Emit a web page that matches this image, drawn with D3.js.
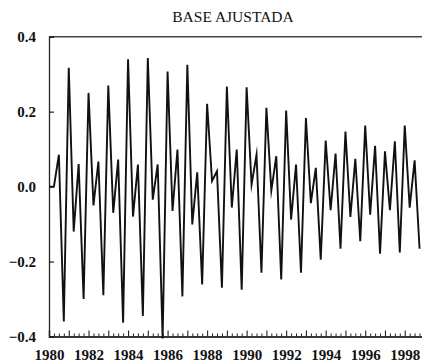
<!DOCTYPE html>
<html>
<head>
<meta charset="utf-8">
<script src="https://cdn.jsdelivr.net/npm/d3@7"></script>
<style>
  html, body { margin: 0; padding: 0; background: #fff; }
  svg { display: block; }
</style>
</head>
<body>
<svg id="chart" width="422" height="364"></svg>
<script>
// Quarterly seasonal component, 1980 Q1 – 1998 Q4 (four values per year)
const years = d3.range(1980, 1999);
const quarterValues = [
  [0.000, 0.000, 0.085, -0.360],  // 1980
  [0.317, -0.120, 0.060, -0.300], // 1981
  [0.250, -0.050, 0.067, -0.290], // 1982
  [0.270, -0.070, 0.072, -0.363], // 1983
  [0.340, -0.080, 0.059, -0.345], // 1984
  [0.343, -0.035, 0.059, -0.405], // 1985
  [0.307, -0.065, 0.099, -0.293], // 1986
  [0.325, -0.101, 0.038, -0.261], // 1987
  [0.221, 0.015, 0.041, -0.270],  // 1988
  [0.267, -0.056, 0.099, -0.275], // 1989
  [0.265, 0.005, 0.085, -0.230],  // 1990
  [0.210, -0.010, 0.081, -0.248], // 1991
  [0.203, -0.088, 0.059, -0.230], // 1992
  [0.183, -0.044, 0.050, -0.195], // 1993
  [0.123, -0.063, 0.088, -0.166], // 1994
  [0.147, -0.081, 0.074, -0.146], // 1995
  [0.163, -0.075, 0.109, -0.179], // 1996
  [0.094, -0.063, 0.121, -0.176], // 1997
  [0.163, -0.056, 0.070, -0.166]  // 1998
];
const yTicks = [-0.4, -0.2, 0.0, 0.2, 0.4];
const yearLabels = d3.range(1980, 1999, 2);
const title = "BASE AJUSTADA";

const serif = "'Liberation Serif', 'Times New Roman', Times, serif";

// Flatten to (time, value) pairs
const series = [];
years.forEach((yr, i) => {
  quarterValues[i].forEach((v, q) => series.push({ t: yr + q / 4, v }));
});

const svg = d3.select("#chart");
const plotLeft = 49, plotRight = 424.5, plotTop = 36.7, plotBottom = 336.5;

const x = d3.scaleLinear().domain([1980, 1999]).range([plotLeft, plotRight]);
const y = d3.scaleLinear().domain([-0.4, 0.4]).range([plotBottom, plotTop]);

// Title
svg.append("text")
  .attr("x", 233).attr("y", 22)
  .attr("text-anchor", "middle")
  .style("font-family", serif)
  .style("font-size", "15.5px")
  .style("fill", "#111")
  .text(title);

// Frame: top border
svg.append("line")
  .attr("x1", plotLeft).attr("x2", plotRight)
  .attr("y1", plotTop).attr("y2", plotTop)
  .attr("stroke", "#444").attr("stroke-width", 1.6);

// Y axis with inward ticks
const yAxis = d3.axisLeft(y).tickValues(yTicks).tickSize(-5).tickPadding(13)
  .tickFormat(d3.format(".1f"));
const gy = svg.append("g").attr("transform", `translate(${plotLeft},0)`).call(yAxis);
gy.select(".domain").attr("stroke", "#222").attr("stroke-width", 1.3);
gy.selectAll(".tick line").attr("stroke", "#222").attr("stroke-width", 1.2);
gy.selectAll(".tick text")
  .style("font-family", serif)
  .style("font-size", "15px").style("font-weight", "bold")
  .style("fill", "#111");

// X axis: quarterly minor ticks, yearly major ticks, labels every two years
const quarterTicks = d3.range(0, 19 * 4 + 1).map(k => 1980 + k / 4);
const xAxisMinor = d3.axisBottom(x).tickValues(quarterTicks.filter(t => t % 1 !== 0))
  .tickSize(-3).tickFormat("");
const gxm = svg.append("g").attr("transform", `translate(0,${plotBottom})`).call(xAxisMinor);
gxm.selectAll(".tick line").attr("stroke", "#222").attr("stroke-width", 1);

const xAxisMajor = d3.axisBottom(x).tickValues(years).tickSize(-6).tickFormat("");
const gx = svg.append("g").attr("transform", `translate(0,${plotBottom})`).call(xAxisMajor);
gx.select(".domain").attr("stroke", "#222").attr("stroke-width", 1.4);
gx.selectAll(".tick line").attr("stroke", "#222").attr("stroke-width", 1.1);

const xLabelAxis = d3.axisBottom(x).tickValues(yearLabels).tickSize(0).tickPadding(13)
  .tickFormat(d3.format("d"));
const gxl = svg.append("g").attr("transform", `translate(0,${plotBottom})`).call(xLabelAxis);
gxl.select(".domain").remove();
gxl.selectAll(".tick text")
  .style("font-family", serif)
  .style("font-size", "15px").style("font-weight", "bold")
  .style("fill", "#111");

// Series line
const line = d3.line().x(d => x(d.t)).y(d => y(d.v));
svg.append("path")
  .datum(series)
  .attr("d", line)
  .attr("fill", "none")
  .attr("stroke", "#111")
  .attr("stroke-width", 1.9)
  .attr("stroke-linejoin", "miter")
  .attr("stroke-miterlimit", 10);
</script>
</body>
</html>
